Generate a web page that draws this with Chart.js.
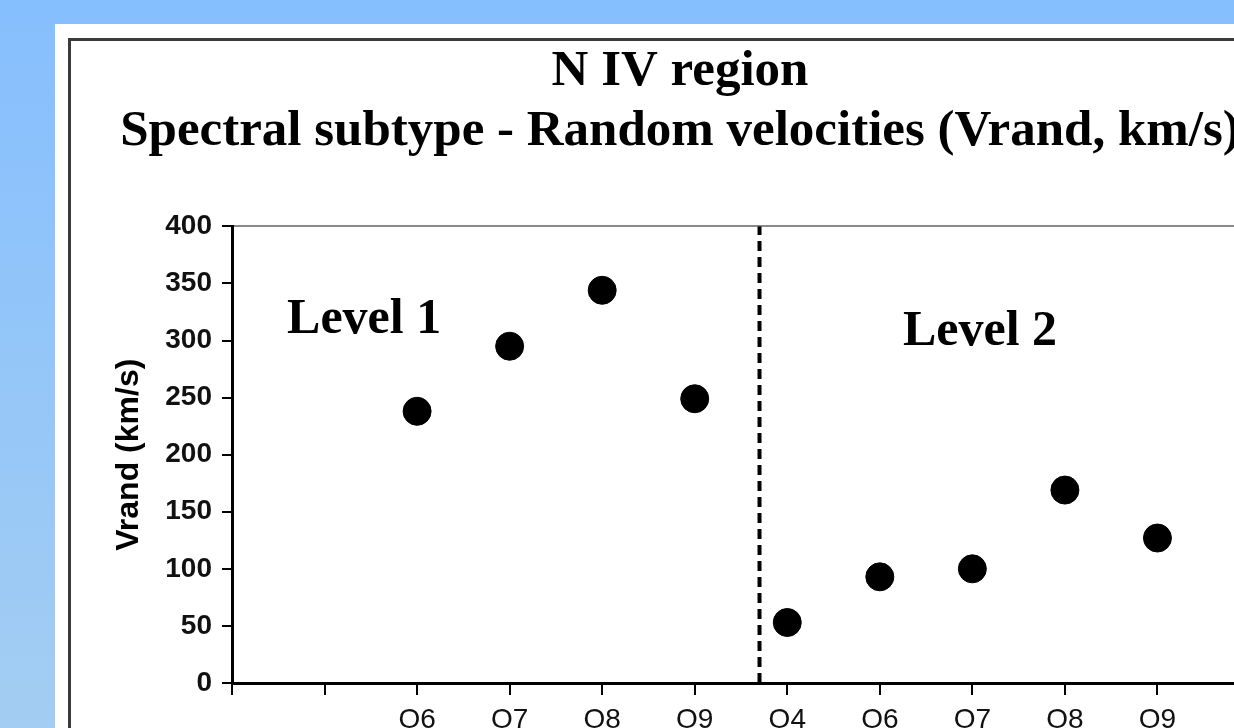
<!DOCTYPE html>
<html>
<head>
<meta charset="utf-8">
<script src="https://cdn.jsdelivr.net/npm/chart.js@4.4.1/dist/chart.umd.min.js"></script>
<style>
    html, body { margin: 0; padding: 0; overflow: hidden; width: 1234px; height: 728px; }
    body { background: linear-gradient(to bottom, #86bffe 0%, #94c6f8 50%, #a3cdf2 100%); position: relative; }
    #panel { position: absolute; left: 55px; top: 24px; width: 1400px; height: 900px; background: #fff; }
    #frame { position: absolute; left: 68px; top: 38px; width: 1400px; height: 900px; border-left: 3px solid #3a3a3a; border-top: 3px solid #3a3a3a; }
    #chart_wrap { position: absolute; left: 0; top: 0; width: 1360px; height: 760px; }
</style>
</head>
<body>
<div id="panel"></div>
<div id="frame"></div>
<div id="chart_wrap"><canvas id="chart_vrand" width="1360" height="760"></canvas></div>
<script>
// Chart data
var tickLabels = ['', '', 'O6', 'O7', 'O8', 'O9', 'O4', 'O6', 'O7', 'O8', 'O9', ''];
var level1X = [2, 3, 4, 5];
var level1Vrand = [238, 295, 344, 249];
var level2X = [6, 7, 8, 9, 10];
var level2Vrand = [53, 93, 100, 169, 127];
var dividerX = 5.7;
var levelNames = ['Level 1', 'Level 2'];

function toPoints(xs, ys) {
    var out = [];
    for (var i = 0; i < xs.length; i++) {
        out.push({ x: xs[i], y: ys[i] });
    }
    return out;
}

// "Level 1" / "Level 2" captions, anchored in data units
var levelLabelPlugin = {
    id: 'levelLabels',
    afterDatasetsDraw: function(chart) {
        var ctx = chart.ctx;
        var xs = chart.scales.x;
        var ys = chart.scales.y;
        var anchors = [[0.595, 307], [7.25, 296]];
        ctx.save();
        ctx.fillStyle = '#000';
        ctx.font = 'bold 50px "Liberation Serif", "Times New Roman", serif';
        ctx.textAlign = 'left';
        ctx.textBaseline = 'alphabetic';
        for (var i = 0; i < levelNames.length; i++) {
            ctx.fillText(levelNames[i], xs.getPixelForValue(anchors[i][0]), ys.getPixelForValue(anchors[i][1]));
        }
        ctx.restore();
    }
};

function draw_chart() {
    var objData = {
        datasets: [
            {
                label: 'Divider',
                data: [{ x: dividerX, y: 0 }, { x: dividerX, y: 400 }],
                showLine: true,
                borderColor: '#000',
                borderWidth: 4,
                borderDash: [10, 6],
                pointRadius: 0,
                order: 2
            },
            {
                label: levelNames[0],
                data: toPoints(level1X, level1Vrand),
                backgroundColor: '#000',
                borderColor: '#000',
                pointRadius: 14,
                pointHoverRadius: 14,
                order: 1
            },
            {
                label: levelNames[1],
                data: toPoints(level2X, level2Vrand),
                backgroundColor: '#000',
                borderColor: '#000',
                pointRadius: 14,
                pointHoverRadius: 14,
                order: 1
            }
        ]
    };

    // Config Options
    var objOptions = {
        responsive: false,
        animation: false,
        events: [],
        layout: { padding: { left: 110, right: 110, top: 0, bottom: 0 } },
        plugins: {
            legend: { display: false },
            tooltip: { enabled: false },
            title: {
                display: true,
                text: ['N IV region', 'Spectral subtype - Random velocities (Vrand, km/s)'],
                color: '#000',
                font: { family: '"Liberation Serif", "Times New Roman", serif', size: 51, weight: 'bold', lineHeight: 1.18 },
                padding: { top: 42, bottom: 64 }
            }
        },
        scales: {
            x: {
                type: 'linear',
                min: 0,
                max: 11,
                afterFit: function(scale) { scale.height = 77; },
                border: { color: '#000', width: 3 },
                grid: { drawOnChartArea: false, color: '#000', tickColor: '#000', tickLength: 12, lineWidth: 2 },
                ticks: {
                    stepSize: 1,
                    padding: 8,
                    color: '#111',
                    font: { family: '"Liberation Sans", Arial, sans-serif', size: 28 },
                    callback: function(value) { return tickLabels[value] || ''; }
                }
            },
            y: {
                min: 0,
                max: 400,
                afterFit: function(scale) { scale.width = 122; },
                border: { color: '#000', width: 3 },
                grid: {
                    color: function(c) { return c.tick && c.tick.value === 400 ? '#8a8a8a' : 'rgba(0,0,0,0)'; },
                    tickColor: '#000',
                    tickLength: 10,
                    lineWidth: 2
                },
                ticks: {
                    stepSize: 50,
                    padding: 10,
                    color: '#111',
                    font: { family: '"Liberation Sans", Arial, sans-serif', size: 28, weight: 'bold' }
                },
                title: {
                    display: true,
                    text: 'Vrand (km/s)',
                    color: '#000',
                    padding: { top: 0, bottom: 4 },
                    font: { family: '"Liberation Sans", Arial, sans-serif', size: 32, weight: 'bold' }
                }
            }
        }
    };

    // Draw Chart
    var elChart = document.getElementById('chart_vrand');
    var objChart = new Chart(elChart, {
        type: 'scatter',
        data: objData,
        options: objOptions,
        plugins: [levelLabelPlugin]
    });
}

draw_chart();
</script>
</body>
</html>
